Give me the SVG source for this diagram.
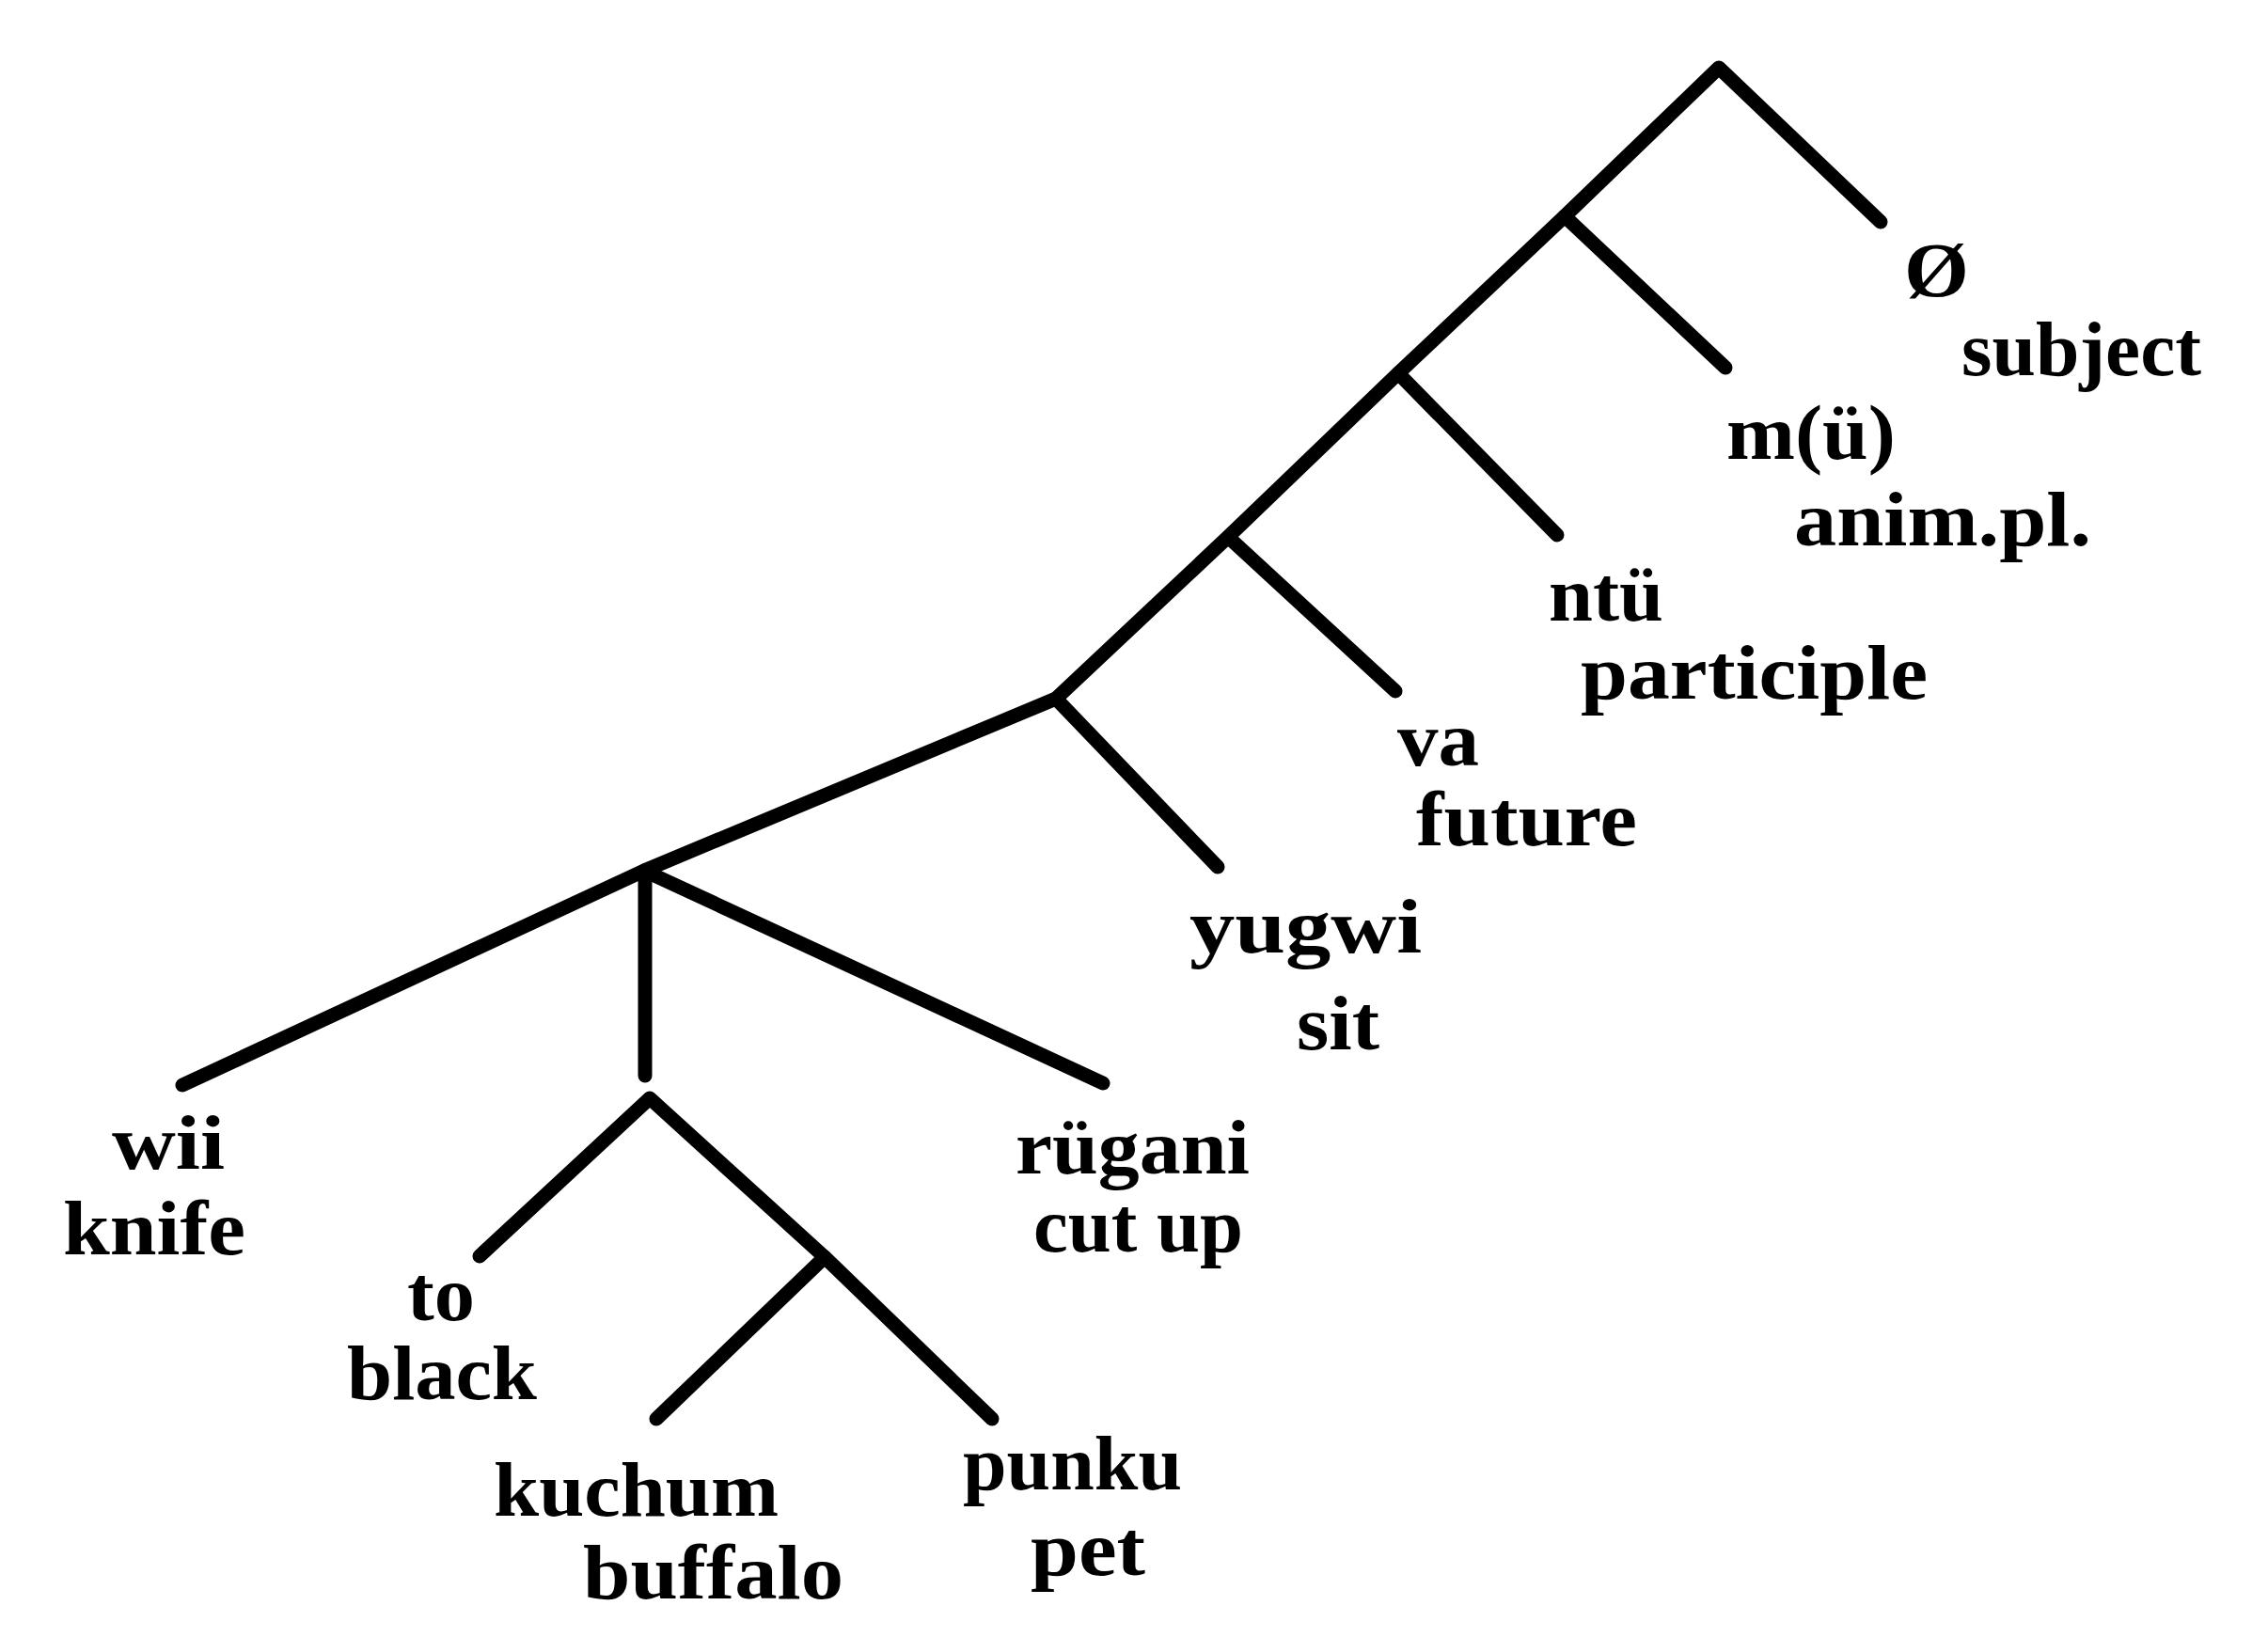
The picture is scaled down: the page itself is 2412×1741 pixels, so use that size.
<svg xmlns="http://www.w3.org/2000/svg" width="2412" height="1741" viewBox="0 0 2412 1741">
<style>
.edge{fill:none;stroke:#000;stroke-width:15;stroke-linecap:round;stroke-linejoin:round}
.lbl{font-family:"Liberation Serif","Times New Roman",serif;font-size:82px;font-weight:bold;fill:#000}
</style>
<rect x="0" y="0" width="2412" height="1741" fill="#fff"/>
<g id="connectors">
<polyline class="edge" points="2000,236 1828,72 1664,230 1487,397 1306,571 1123,743 685,926 194,1154"/>
<line class="edge" x1="1664" y1="230" x2="1835" y2="391"/>
<line class="edge" x1="1487" y1="397" x2="1656" y2="569"/>
<line class="edge" x1="1306" y1="571" x2="1484" y2="735"/>
<line class="edge" x1="1123" y1="743" x2="1295" y2="922"/>
<line class="edge" x1="686" y1="926" x2="686" y2="1144"/>
<line class="edge" x1="685" y1="926" x2="1173" y2="1152"/>
<polyline class="edge" points="510,1336 691,1168 877,1337 1055,1509"/>
<line class="edge" x1="877" y1="1337" x2="698" y2="1509"/>
</g>
<g id="node-subject"><text class="lbl" x="2025" y="315" textLength="69" lengthAdjust="spacingAndGlyphs">Ø</text><text class="lbl" x="2086" y="399" textLength="255" lengthAdjust="spacingAndGlyphs">subject</text></g>
<g id="node-animpl"><text class="lbl" x="1836" y="488" textLength="180" lengthAdjust="spacingAndGlyphs">m(ü)</text><text class="lbl" x="1908" y="580" textLength="316" lengthAdjust="spacingAndGlyphs">anim.pl.</text></g>
<g id="node-participle"><text class="lbl" x="1647" y="660" textLength="122" lengthAdjust="spacingAndGlyphs">ntü</text><text class="lbl" x="1681" y="743" textLength="369" lengthAdjust="spacingAndGlyphs">participle</text></g>
<g id="node-future"><text class="lbl" x="1486" y="814" textLength="87" lengthAdjust="spacingAndGlyphs">va</text><text class="lbl" x="1506" y="899" textLength="235" lengthAdjust="spacingAndGlyphs">future</text></g>
<g id="node-sit"><text class="lbl" x="1265" y="1013" textLength="247" lengthAdjust="spacingAndGlyphs">yugwi</text><text class="lbl" x="1379" y="1116" textLength="88" lengthAdjust="spacingAndGlyphs">sit</text></g>
<g id="node-knife"><text class="lbl" x="119" y="1243" textLength="120" lengthAdjust="spacingAndGlyphs">wii</text><text class="lbl" x="67" y="1334" textLength="194" lengthAdjust="spacingAndGlyphs">knife</text></g>
<g id="node-cutup"><text class="lbl" x="1080" y="1248" textLength="249" lengthAdjust="spacingAndGlyphs">rügani</text><text class="lbl" x="1099" y="1331" textLength="223" lengthAdjust="spacingAndGlyphs">cut up</text></g>
<g id="node-black"><text class="lbl" x="433" y="1404" textLength="72" lengthAdjust="spacingAndGlyphs">to</text><text class="lbl" x="369" y="1488" textLength="202" lengthAdjust="spacingAndGlyphs">black</text></g>
<g id="node-buffalo"><text class="lbl" x="525" y="1612" textLength="303" lengthAdjust="spacingAndGlyphs">kuchum</text><text class="lbl" x="620" y="1700" textLength="277" lengthAdjust="spacingAndGlyphs">buffalo</text></g>
<g id="node-pet"><text class="lbl" x="1024" y="1584" textLength="233" lengthAdjust="spacingAndGlyphs">punku</text><text class="lbl" x="1096" y="1675" textLength="122" lengthAdjust="spacingAndGlyphs">pet</text></g>
</svg>
